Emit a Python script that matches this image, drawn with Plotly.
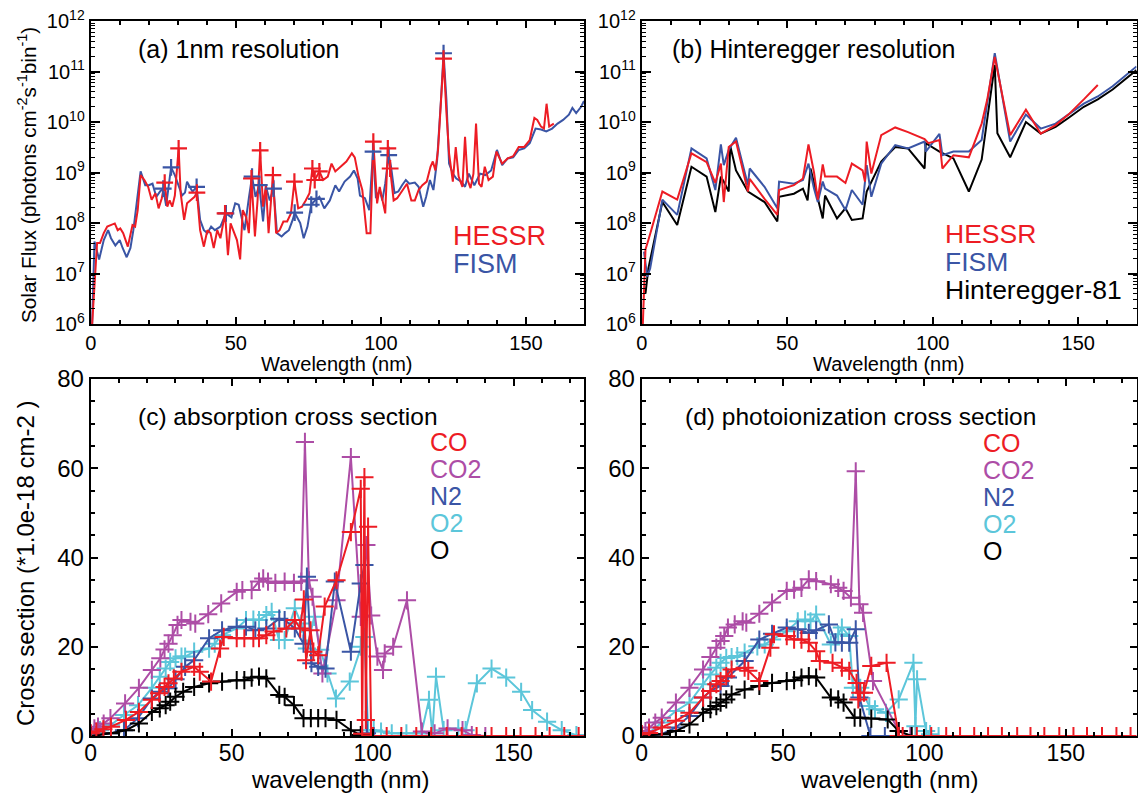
import plotly.graph_objects as go

W, H = 1138, 794

# ---------------- Panel (a): 1 nm resolution ----------------
fism_1nm_x = [0.5, 1.3, 2.9, 4.5, 6.0, 7.0, 8.5, 10.0, 11.0, 12.4, 13.7, 14.7, 15.7, 17.2, 18.8, 20.0,
              21.3, 22.6, 23.9, 25.0, 26.0, 27.7, 29.0, 30.3, 31.5, 32.5, 33.2, 34.3, 35.1, 36.5, 37.7,
              39.0, 40.2, 41.5, 42.8, 44.7, 46.6, 48.5, 49.8, 51.0, 53.0, 54.5, 55.6, 56.8, 58.1, 59.4,
              60.4, 61.7, 63.0, 64.2, 65.8, 67.0, 68.3, 69.6, 70.3, 72.2, 73.4, 74.7, 76.0, 77.3, 78.8,
              80.5, 82.4, 84.3, 85.6, 87.5, 89.4, 90.7, 92.0, 92.8, 94.5, 96.0, 97.3, 98.3, 99.6, 100.5,
              101.5, 102.7, 103.5, 104.7, 106.0, 107.3, 108.6, 109.8, 111.7, 113.0, 114.6, 115.6, 116.9,
              118.1, 119.4, 120.7, 121.6, 122.6, 123.5, 124.8, 126.0, 127.7, 129.0, 130.3, 132.2, 134.2,
              136.0, 138.0, 140.0, 141.8, 143.7, 145.6, 147.5, 149.4, 151.3, 153.3, 155.2, 157.0, 159.0,
              160.9, 162.8, 164.8, 166.0, 167.3, 169.0, 170.0]
fism_1nm_y = [1e6, 4.3e7, 1.9e7, 4.6e7, 7.2e7, 5.0e7, 3.6e7, 4.6e7, 3.2e7, 2.1e7, 3.2e7, 7.2e7, 2.1e8, 1.05e9,
              5.6e8, 5.6e8, 6.0e8, 3.3e8, 4.2e8, 4.8e8, 2.2e8, 1.26e9, 8.9e8, 5.2e8, 3.5e8, 4.0e8, 6.6e8,
              5.0e8, 4.2e8, 5.2e8, 1.15e8, 7.2e7, 6.3e7, 8.5e7, 7.2e7, 8.5e7, 1.55e8, 1.3e8, 2.45e8, 2.3e8,
              7.2e7, 3.1e8, 8.3e8, 3.3e8, 5.6e8, 1.07e8, 5.2e8, 2.8e8, 4.8e8, 6.3e7, 5.4e7, 6.3e7, 7.2e7,
              1.15e8, 1.6e8, 1.0e8, 5.0e7, 8.5e7, 2.3e8, 2.8e8, 3.3e8, 1.95e8, 2.8e8, 5.6e8, 4.2e8, 6.6e8,
              8.3e8, 1.1e9, 7.6e8, 3.5e8, 3.1e8, 1.8e8, 2.6e9, 3.1e8, 4.5e8, 2.8e8, 6.0e8, 2.2e9, 1.3e9,
              3.9e8, 4.2e8, 5.6e8, 7.1e8, 6.0e8, 6.3e8, 5.2e8, 2.1e8, 3.3e8, 7.1e8, 4.5e8, 1.8e9, 2.7e10,
              2.3e11, 2.7e10, 1.5e9, 9.5e8, 7.6e8, 6.6e8, 5.2e8, 9.5e8, 5.6e8, 9.5e8, 8.9e8, 1.1e9, 2.8e9,
              1.4e9, 1.9e9, 2.0e9, 2.8e9, 3.0e9, 3.8e9, 7.4e9, 7.1e9, 6.5e9, 7.4e9, 9.3e9, 1.1e10, 1.4e10,
              1.9e10, 1.5e10, 2.0e10, 2.6e10]

hessr_1nm_x = [0.5, 2.2, 3.2, 4.5, 5.7, 7.0, 8.3, 9.3, 10.2, 11.2, 12.8, 14.4, 15.3, 16.2, 17.2, 18.5, 19.8,
               21.0, 22.3, 23.4, 24.5, 25.5, 26.4, 27.2, 28.1, 29.0, 30.3, 31.0, 32.2, 33.2, 34.5, 35.8,
               36.6, 37.7, 39.0, 40.2, 41.3, 42.4, 43.6, 44.7, 46.3, 47.3, 48.2, 49.4, 50.4, 51.5, 52.4,
               53.6, 54.5, 55.4, 56.6, 57.5, 58.4, 59.4, 60.4, 61.3, 62.8, 63.9, 65.1, 66.4, 67.7, 69.0,
               70.2, 71.5, 72.8, 74.1, 75.4, 76.4, 77.2, 78.8, 80.1, 81.7, 83.0, 84.3, 86.2, 88.1, 90.0,
               91.0, 92.3, 93.6, 95.1, 96.4, 97.4, 98.7, 99.6, 100.5, 101.5, 102.4, 103.2, 104.4, 105.6,
               107.3, 109.0, 110.5, 111.7, 113.0, 114.3, 115.8, 117.1, 117.9, 118.8, 119.7, 120.7, 121.6,
               122.6, 123.5, 124.8, 125.8, 126.8, 128.1, 129.0, 129.9, 130.9, 131.9, 132.8, 133.8, 134.7,
               135.8, 137.1, 138.6, 139.8, 141.8, 143.7, 145.6, 147.5, 149.4, 151.3, 152.9, 153.9, 155.2,
               156.2, 157.1, 158.0, 159.6]
hessr_1nm_y = [1e6, 4.0e7, 4.0e7, 6.3e7, 8.5e7, 9.1e7, 9.8e7, 7.2e7, 7.8e7, 6.3e7, 3.4e7, 9.1e7, 8.5e7,
               1.8e8, 8.9e8, 7.1e8, 5.2e8, 2.9e8, 3.9e8, 1.95e8, 3.1e8, 6.3e8, 2.1e8, 2.8e8, 2.1e8, 3.5e8,
               3.0e9, 3.9e8, 1.15e8, 2.45e8, 2.8e8, 3.3e8, 4.0e8, 7.2e7, 3.4e7, 7.2e7, 6.3e7, 3.2e7, 7.2e7,
               5.0e7, 1.55e8, 2.3e7, 9.8e7, 6.3e7, 4.6e7, 1.9e7, 1.8e8, 1.3e8, 6.3e7, 7.6e8, 5.4e7, 2.8e8,
               2.75e9, 2.1e8, 5.6e8, 6.3e7, 8.9e8, 6.3e7, 7.2e7, 1.07e8, 1.07e8, 1.55e8, 6.6e8, 1.95e8,
               2.1e8, 2.8e8, 3.9e8, 1.2e9, 7.1e8, 1.05e9, 7.1e8, 8.3e8, 1.5e9, 1.05e9, 1.3e9, 1.65e9, 2.4e9,
               2.0e9, 8.3e8, 4.5e8, 6.3e7, 6.3e7, 4.1e9, 2.45e8, 5.2e8, 3.1e8, 1.55e8, 3.0e9, 1.2e9, 2.8e8,
               3.1e8, 4.2e8, 6.0e8, 2.8e8, 2.8e8, 4.5e8, 5.6e8, 6.6e8, 1.3e9, 1.65e9, 1.1e9, 2.8e9, 3.2e10,
               1.8e11, 1.5e10, 2.4e9, 6.6e8, 3.2e9, 8.3e8, 5.2e8, 5.1e9, 7.1e8, 4.9e8, 9.5e8, 9.3e9, 6.0e8,
               5.2e8, 1.3e9, 7.1e8, 8.3e8, 2.6e9, 1.5e9, 1.9e9, 2.1e9, 3.2e9, 3.2e9, 4.4e9, 1.2e10, 1.1e10,
               8.1e9, 7.4e9, 2.3e10, 8.1e9, 9.3e9]

# strong lines marked with "+"
hessr_lines_x = [25.5, 30.3, 36.6, 46.3, 55.4, 58.4, 62.8, 70.2, 76.4, 77.2, 78.8, 97.4, 102.4, 103.2, 121.6]
hessr_lines_y = [6.3e8, 3.0e9, 4.0e8, 1.55e8, 7.6e8, 2.75e9, 8.9e8, 6.6e8, 1.2e9, 7.1e8, 1.05e9, 4.1e9,
                 3.0e9, 1.2e9, 1.8e11]
fism_lines_x = [25.0, 27.7, 36.5, 46.6, 55.6, 58.1, 63.0, 70.3, 76.0, 77.8, 97.3, 102.7, 121.6]
fism_lines_y = [4.8e8, 1.26e9, 5.2e8, 1.55e8, 8.3e8, 5.6e8, 4.8e8, 1.6e8, 2.3e8, 3.0e8, 2.6e9, 2.2e9, 2.3e11]

# ---------------- Panel (b): Hinteregger resolution ----------------
hessr_h_x = [0.4, 1.3, 2.3, 7.1, 12.2, 17.1, 22.3, 25.3, 27.2, 28.2, 29.9, 32.4, 36.5, 37.1, 42.2, 46.6,
             47.2, 52.3, 55.4, 57.3, 59.2, 60.5, 62.2, 63.0, 67.1, 70.0, 72.2, 75.9, 76.7, 77.3, 78.9,
             82.3, 87.1, 91.5, 97.2, 98.5, 102.3, 103.3, 107.1, 112.4, 116.8, 118.7, 121.3, 126.6, 132.0,
             137.1, 142.2, 146.6, 151.9, 156.7]
hessr_h_y = [1e6, 3.0e7, 4.6e7, 4.2e8, 2.9e8, 2.4e9, 1.6e9, 6.2e8, 1.5e9, 2.6e8, 3.2e9, 4.1e9, 4.2e8,
             7.5e8, 3.0e8, 1.45e8, 4.5e8, 5.6e8, 7.6e8, 3.6e9, 1.0e9, 2.9e8, 1.45e9, 8.3e8, 8.3e8, 6.2e8,
             1.5e9, 1.1e9, 6.6e8, 4.1e9, 9.5e8, 5.5e9, 7.8e9, 6.3e9, 4.6e9, 3.8e9, 4.4e9, 1.2e9, 2.2e9,
             2.0e9, 9.3e9, 2.75e10, 1.95e11, 5.5e9, 1.75e10, 5.9e9, 8.7e9, 1.4e10, 2.8e10, 5.4e10]

fism_h_x = [0.8, 1.9, 2.9, 7.1, 12.2, 17.1, 22.3, 25.3, 27.2, 28.2, 29.9, 32.4, 36.5, 37.1, 42.2, 46.6,
            47.2, 52.3, 55.4, 57.3, 59.2, 60.5, 62.2, 63.0, 67.1, 70.0, 72.2, 75.9, 77.3, 78.9, 82.3,
            87.1, 91.5, 97.2, 97.6, 102.3, 103.3, 107.1, 112.4, 116.8, 121.3, 126.6, 132.0, 137.1, 142.2,
            146.6, 151.9, 156.7, 161.8, 170.0]
fism_h_y = [2.7e7, 8.7e6, 1.26e7, 2.9e8, 1.45e8, 3.0e9, 1.9e9, 4.5e8, 3.6e9, 1.4e9, 2.8e9, 4.9e9, 5.6e8,
            1.2e9, 5.2e8, 1.95e8, 6.6e8, 6.0e8, 7.1e8, 1.5e9, 4.8e8, 2.6e8, 6.6e8, 4.8e8, 3.5e8, 1.8e8,
            4.5e8, 2.3e8, 1.4e9, 3.3e8, 1.5e9, 3.5e9, 3.0e9, 4.1e9, 2.6e9, 5.8e9, 2.2e9, 2.6e9, 2.6e9,
            4.4e9, 2.3e11, 4.1e9, 1.4e10, 7.4e9, 9.3e9, 1.4e10, 2.3e10, 3.2e10, 5.1e10, 1.26e11]

hint81_x = [1.3, 2.3, 7.1, 12.2, 17.1, 22.3, 25.3, 27.2, 28.2, 29.9, 30.4, 32.4, 36.5, 42.2, 46.6, 47.2,
            52.3, 55.4, 57.0, 58.0, 62.2, 63.0, 67.1, 70.0, 72.2, 75.9, 77.3, 78.9, 82.3, 87.1, 91.5,
            97.2, 97.6, 102.3, 107.1, 112.4, 116.8, 121.3, 122.2, 126.6, 132.0, 137.1, 142.2, 146.6,
            151.9, 156.7, 161.8, 170.0]
hint81_y = [4.0e6, 1.26e7, 2.6e8, 9.1e7, 1.3e9, 8.3e8, 1.65e8, 8.3e8, 6.6e8, 4.2e8, 3.4e9, 1.1e9, 4.2e8,
            2.6e8, 1.07e8, 3.3e8, 3.8e8, 4.8e8, 2.8e8, 1.2e9, 1.23e8, 3.5e8, 1.23e8, 1.95e8, 1.15e8,
            1.23e8, 4.2e8, 6.6e8, 1.65e9, 3.2e9, 3.0e9, 1.2e9, 3.8e9, 2.6e9, 1.9e9, 4.2e8, 1.8e9, 1.35e11,
            6.0e9, 2.0e9, 1.0e10, 5.9e9, 8.0e9, 1.2e10, 2.0e10, 2.8e10, 4.4e10, 1.07e11]

# ---------------- Panel (c): absorption cross section (1e-18 cm^2) ----------------
co2_abs_x = [0, 1.3, 2.6, 4.6, 7.0, 12.2, 17.1, 21.7, 24.7, 26.2, 27.6, 29.1, 30.8, 32.2, 35.4, 37.1, 41.7,
             46.3, 51.8, 53.8, 57.1, 59.7, 61.2, 62.9, 65.5, 68.8, 72.1, 74.7, 76.0, 77.4, 78.7, 82.2, 87.2,
             92.3, 95.8, 97.8, 99.5, 101.7, 103.7, 104.3, 107.3, 112.2, 117.5, 122.0, 126.6, 131.9, 135.2,
             140.0]
co2_abs_y = [0.6, 1.7, 2.1, 2.8, 4.0, 7.3, 10.8, 14.8, 17.4, 19.4, 20.7, 22.6, 24.9, 26.0, 25.6, 25.2, 27.3,
             29.7, 32.3, 32.7, 32.7, 34.6, 35.3, 34.6, 34.3, 34.6, 34.3, 34.6, 65.9, 34.9, 31.2, 14.0, 30.4,
             62.5, 26.7, 42.8, 27.0, 17.8, 14.8, 18.5, 20.0, 30.4, 1.0, 0.6, 1.7, 1.3, 0.2, 0.0]

o2_abs_x = [0, 1.3, 3.3, 7.2, 11.8, 16.8, 21.7, 24.5, 26.6, 28.2, 30.1, 32.2, 33.5, 36.7, 42.0, 44.0, 46.6,
            51.8, 55.1, 57.7, 59.7, 62.3, 64.2, 66.8, 68.8, 72.4, 74.7, 76.7, 79.3, 81.4, 84.0, 87.0, 91.9,
            95.8, 97.1, 98.4, 100.4, 103.0, 106.8, 112.0, 117.3, 120.0, 121.2, 122.5, 125.2, 130.4, 133.0,
            137.0, 142.2, 147.4, 152.7, 156.6, 161.9, 167.1, 172.3]
o2_abs_y = [0.2, 0.6, 1.3, 2.5, 4.7, 6.9, 10.8, 13.3, 15.1, 16.6, 17.4, 17.8, 17.8, 18.9, 19.6, 20.7, 22.6,
            24.1, 26.0, 26.1, 26.0, 27.1, 27.8, 21.5, 21.5, 28.6, 25.2, 19.6, 26.7, 19.3, 14.0, 8.4, 12.2,
            20.0, 22.2, 1.3, 1.3, 1.0, 0.6, 0.6, 0.6, 8.1, 0.6, 13.3, 1.3, 1.7, 1.3, 11.8, 15.1, 13.1, 9.9,
            5.8, 3.2, 1.3, 0.2]

n2_abs_x = [0, 7.2, 11.8, 16.8, 21.7, 24.5, 27.6, 30.1, 33.5, 36.7, 42.0, 46.6, 51.8, 55.1, 58.4, 62.3,
            66.9, 68.8, 72.4, 75.5, 76.7, 78.3, 80.7, 83.3, 86.6, 92.3, 95.8, 97.1, 98.0, 100.4]
n2_abs_y = [0, 0.6, 1.3, 4.0, 8.4, 9.9, 10.7, 12.7, 15.5, 17.0, 21.9, 23.7, 24.5, 24.5, 23.7, 24.1, 26.3,
            26.0, 24.1, 20.7, 35.7, 16.3, 15.5, 15.1, 34.6, 18.9, 34.2, 38.3, 0.6, 0]

o_abs_x = [0, 7.2, 12.5, 17.1, 21.7, 24.5, 26.6, 28.2, 30.1, 32.8, 36.7, 42.0, 46.6, 51.8, 54.5, 57.1, 59.7,
           62.3, 66.9, 68.8, 72.1, 75.5, 78.1, 80.7, 83.3, 87.2, 92.3, 95.8, 100.0]
o_abs_y = [0, 0.6, 1.3, 2.8, 5.4, 6.2, 6.9, 7.7, 8.8, 9.9, 11.0, 11.8, 12.2, 12.5, 12.5, 13.1, 13.3, 12.9,
           9.2, 8.8, 6.9, 4.0, 4.0, 4.0, 4.0, 3.6, 1.3, 0.2, 0]

co_abs_x = [0, 2.0, 4.5, 7.2, 12.5, 17.1, 21.7, 24.3, 26.2, 27.6, 29.5, 32.2, 36.7, 38.7, 42.7, 45.9, 47.2,
            51.8, 54.5, 57.7, 59.7, 62.3, 64.9, 69.4, 72.4, 74.3, 75.6, 76.4, 78.0, 79.0, 80.7, 83.0, 87.2,
            92.3, 95.8, 96.3, 97.1, 97.6, 98.4, 99.5, 100.1, 105.0, 110.2, 115.5, 120.8, 126.3, 131.6,
            136.9, 142.2, 147.4, 152.5, 157.8, 162.8, 168.0, 173.1]
co_abs_y = [0.6, 1.0, 1.5, 2.1, 3.6, 5.4, 8.1, 9.6, 11.0, 11.8, 12.9, 14.4, 15.5, 14.4, 12.2, 19.6, 22.2,
            21.9, 21.9, 21.9, 21.9, 22.6, 23.4, 24.1, 26.0, 24.1, 30.6, 17.0, 23.7, 18.9, 18.1, 29.0, 34.9,
            45.7, 55.4, 0.5, 58.0, 3.6, 46.9, 0, 0, 0, 0, 0, 0, 0, 0, 0, 0, 0, 0, 0, 0, 0, 0]

# ---------------- Panel (d): photoionization cross section ----------------
co2_ion_x = [0, 1.3, 2.6, 4.8, 7.1, 12.1, 16.9, 21.7, 24.3, 26.4, 27.9, 29.2, 30.5, 32.9, 35.7, 37.0, 41.6,
             46.1, 51.3, 53.9, 56.5, 59.1, 61.7, 66.9, 69.5, 71.4, 74.0, 75.7, 77.0, 78.3, 81.8, 90.9, 95.0]
co2_ion_y = [0.4, 1.1, 1.9, 3.0, 4.1, 7.5, 10.8, 14.9, 17.7, 19.8, 21.3, 22.4, 24.3, 25.0, 25.7, 25.4, 27.4,
             29.9, 32.5, 32.8, 33.2, 35.1, 34.7, 34.0, 33.2, 32.5, 31.0, 59.3, 29.5, 27.6, 12.3, 1.1, 0]

o2_ion_x = [0, 2.6, 7.1, 12.1, 16.9, 21.7, 24.3, 26.4, 27.9, 29.9, 31.8, 33.8, 36.4, 40.9, 43.5, 46.1, 51.3,
            55.2, 57.8, 59.7, 61.7, 66.9, 69.5, 70.8, 73.4, 74.7, 77.3, 80.5, 82.5, 86.4, 90.9, 96.1, 96.8,
            97.4, 100.6, 102.0, 105.0]
o2_ion_y = [0, 0.7, 3.0, 5.6, 7.5, 11.6, 13.8, 15.3, 16.4, 17.5, 17.7, 17.9, 18.7, 20.1, 20.5, 21.6, 23.5,
            25.7, 26.1, 25.7, 27.2, 20.5, 22.8, 24.3, 22.4, 10.8, 10.8, 6.7, 6.0, 5.2, 8.2, 16.4, 2.2, 12.7,
            1.1, 0.4, 0]

n2_ion_x = [0, 7.1, 12.1, 16.9, 21.7, 24.3, 27.9, 30.5, 36.4, 41.6, 46.1, 51.3, 55.2, 59.1, 61.7, 66.2,
            68.5, 70.8, 73.4, 75.7, 77.0, 80.9, 86.0, 90.0]
n2_ion_y = [0, 0.4, 1.9, 4.5, 8.6, 10.1, 11.2, 13.1, 16.8, 21.6, 22.9, 24.3, 23.9, 23.1, 23.7, 25.0, 21.0,
            20.9, 20.9, 23.9, 8.6, 0, 0, 0]

o_ion_x = [0, 7.1, 12.1, 16.9, 21.7, 24.3, 26.4, 27.9, 29.9, 31.8, 36.4, 41.6, 46.1, 51.3, 53.9, 56.5, 59.1,
           61.7, 66.9, 69.5, 71.4, 75.3, 77.3, 81.2, 87.0, 90.9, 95.5]
o_ion_y = [0, 0.4, 1.1, 2.6, 5.2, 6.0, 6.7, 7.5, 8.2, 9.3, 10.4, 11.2, 11.9, 12.3, 12.5, 13.1, 13.4, 13.1,
           8.6, 8.2, 7.5, 4.1, 4.1, 3.9, 3.7, 1.1, 0]

co_ion_x = [0, 2.6, 7.1, 12.1, 16.9, 21.7, 24.3, 26.4, 27.9, 29.9, 31.8, 36.4, 37.7, 41.6, 45.5, 46.8, 51.3,
            53.9, 56.5, 59.1, 61.7, 63.0, 67.5, 70.8, 73.4, 76.0, 76.6, 77.3, 78.6, 81.2, 86.6, 90.9, 92.3,
            97.3, 102.4, 107.7, 112.6, 117.6, 122.5, 127.4, 132.8, 137.5, 142.4, 147.7, 152.7, 157.5, 162.8,
            167.9, 172.9]
co_ion_y = [0.4, 0.7, 1.9, 3.4, 5.2, 8.6, 10.1, 11.6, 12.3, 13.4, 14.9, 15.3, 14.6, 12.3, 19.8, 22.8, 22.4,
            21.6, 21.6, 20.9, 19.0, 16.8, 16.4, 15.3, 14.6, 11.9, 8.2, 9.7, 9.7, 15.7, 16.4, 0, 0, 0, 0, 0,
            0, 0, 0, 0, 0, 0, 0, 0, 0, 0, 0, 0, 0]

flux_tickvals = [1e6, 1e7, 1e8, 1e9, 1e10, 1e11, 1e12]
flux_ticktext = ["10<sup>6</sup>", "10<sup>7</sup>", "10<sup>8</sup>", "10<sup>9</sup>",
                 "10<sup>10</sup>", "10<sup>11</sup>", "10<sup>12</sup>"]
wl_ticks = [0, 50, 100, 150]

RED = "#ED1C24"
BLUE = "#3A55A5"
PURPLE = "#AD4DA6"
CYAN = "#5CC6DA"
BLACK = "#000000"
FONT = "Liberation Sans, Arial, sans-serif"

fig = go.Figure()


def line(x, y, color, ax, width=2.0, markers=False, msize=13):
    fig.add_trace(go.Scatter(
        x=x, y=y, xaxis="x" + ax, yaxis="y" + ax,
        mode="lines+markers" if markers else "lines",
        line=dict(color=color, width=width),
        marker=dict(symbol="cross-thin", size=msize, line=dict(color=color, width=2)),
        showlegend=False, hoverinfo="skip"))


def pts(x, y, color, ax, msize=12):
    fig.add_trace(go.Scatter(
        x=x, y=y, xaxis="x" + ax, yaxis="y" + ax, mode="markers",
        marker=dict(symbol="cross-thin", size=msize, line=dict(color=color, width=2.2)),
        showlegend=False, hoverinfo="skip"))


# panel a
line(fism_1nm_x, fism_1nm_y, BLUE, "")
line(hessr_1nm_x, hessr_1nm_y, RED, "")
pts(fism_lines_x, fism_lines_y, BLUE, "")
pts(hessr_lines_x, hessr_lines_y, RED, "")
# panel b
line(hint81_x, hint81_y, BLACK, "2")
line(fism_h_x, fism_h_y, BLUE, "2")
line(hessr_h_x, hessr_h_y, RED, "2")
# panel c
line(o2_abs_x, o2_abs_y, CYAN, "3", markers=True)
line(co2_abs_x, co2_abs_y, PURPLE, "3", markers=True)
line(n2_abs_x, n2_abs_y, BLUE, "3", markers=True)
line(o_abs_x, o_abs_y, BLACK, "3", markers=True)
line(co_abs_x, co_abs_y, RED, "3", markers=True)
# panel d
line(o2_ion_x, o2_ion_y, CYAN, "4", markers=True)
line(co2_ion_x, co2_ion_y, PURPLE, "4", markers=True)
line(n2_ion_x, n2_ion_y, BLUE, "4", markers=True)
line(o_ion_x, o_ion_y, BLACK, "4", markers=True)
line(co_ion_x, co_ion_y, RED, "4", markers=True)


def fx(p):
    return p / W


def fy(p):
    return 1 - p / H


def xaxis(dom, rng, fs, anchor, standoff=0):
    return dict(domain=dom, range=rng, anchor=anchor, tickvals=wl_ticks, ticks="inside", ticklen=7,
                tickwidth=1.5, tickcolor="black", showline=True, linewidth=2, linecolor="black",
                mirror="allticks", showgrid=False, zeroline=False, automargin=False,
                ticklabelstandoff=standoff,
                tickfont=dict(family=FONT, size=fs, color="black"),
                minor=dict(dtick=10, ticks="inside", ticklen=4, tickwidth=1.5, tickcolor="black",
                           showgrid=False))


def logy(dom, anchor):
    return dict(domain=dom, type="log", range=[6, 12], anchor=anchor, tickvals=flux_tickvals,
                ticktext=flux_ticktext, ticks="inside", ticklen=9, tickwidth=1.5, tickcolor="black",
                showline=True, linewidth=2, linecolor="black", mirror="allticks", showgrid=False,
                zeroline=False, automargin=False, tickfont=dict(family=FONT, size=20, color="black"),
                minor=dict(dtick="D1", ticks="inside", ticklen=4, tickwidth=1.2, tickcolor="black",
                           showgrid=False))


def liny(dom, anchor):
    return dict(domain=dom, range=[0, 80], anchor=anchor, dtick=20, tick0=0, ticks="inside", ticklen=7,
                tickwidth=1.5, tickcolor="black", showline=True, linewidth=2, linecolor="black",
                mirror="allticks", showgrid=False, zeroline=False, automargin=False,
                tickfont=dict(family=FONT, size=24, color="black"),
                minor=dict(dtick=5, ticks="inside", ticklen=4, tickwidth=1.5, tickcolor="black",
                           showgrid=False))


top_dom = [fy(324), fy(21)]
bot_dom = [fy(736), fy(379)]
xa = [fx(90.7), fx(584)]
xb = [fx(641.7), fx(1136.5)]

fig.update_layout(
    width=W, height=H, margin=dict(l=0, r=0, t=0, b=0, autoexpand=False),
    paper_bgcolor="white", plot_bgcolor="white",
    font=dict(family=FONT, color="black"),
    xaxis=xaxis(xa, [0, 170], 20, "y"), yaxis=logy(top_dom, "x"),
    xaxis2=xaxis(xb, [0, 170], 20, "y2"), yaxis2=logy(top_dom, "x2"),
    xaxis3=xaxis(xa, [0, 175], 23, "y3", -5), yaxis3=liny(bot_dom, "x3"),
    xaxis4=xaxis(xb, [0, 175], 23, "y4", -5), yaxis4=liny(bot_dom, "x4"),
)

ann = []


def txt(s, x, y, size, color="black", xanchor="left", angle=0):
    ann.append(dict(text=s, x=fx(x), y=fy(y), xref="paper", yref="paper", showarrow=False,
                    xanchor=xanchor, yanchor="middle", textangle=angle, borderpad=0,
                    font=dict(family=FONT, size=size, color=color)))


txt("(a) 1nm resolution", 137, 49, 25)
txt("(b) Hinteregger resolution", 671, 49, 25)
txt("(c) absorption cross section", 137, 416, 24.5)
txt("(d) photoionization cross section", 684, 416, 24.5)

txt("HESSR", 452, 236, 27, RED)
txt("FISM", 452, 264, 27, BLUE)
txt("HESSR", 944, 234, 26.5, RED)
txt("FISM", 944, 262, 26.5, BLUE)
txt("Hinteregger-81", 944, 290, 26.5, BLACK)

for i, (s, c) in enumerate([("CO", RED), ("CO2", PURPLE), ("N2", BLUE), ("O2", CYAN), ("O", BLACK)]):
    txt(s, 429, 442 + 27 * i, 25, c)
    txt(s, 982, 443 + 27 * i, 25, c)

txt("Wavelength (nm)", 337, 364, 20, xanchor="center")
txt("Wavelength (nm)", 889, 364, 20, xanchor="center")
txt("wavelength (nm)", 340, 779, 24, xanchor="center")
txt("wavelength (nm)", 889, 779, 24, xanchor="center")
txt("Solar Flux (photons cm<sup>-2</sup>s<sup>-1</sup>bin<sup>-1</sup>)", 27, 175, 20.7, xanchor="center",
    angle=-90)
txt("Cross section (*1.0e-18 cm-2 )", 25, 564, 24, xanchor="center", angle=-90)

fig.update_layout(annotations=ann)
fig.write_html("out.html", config={"displayModeBar": False},
               post_script="document.body.style.margin='0px';")
